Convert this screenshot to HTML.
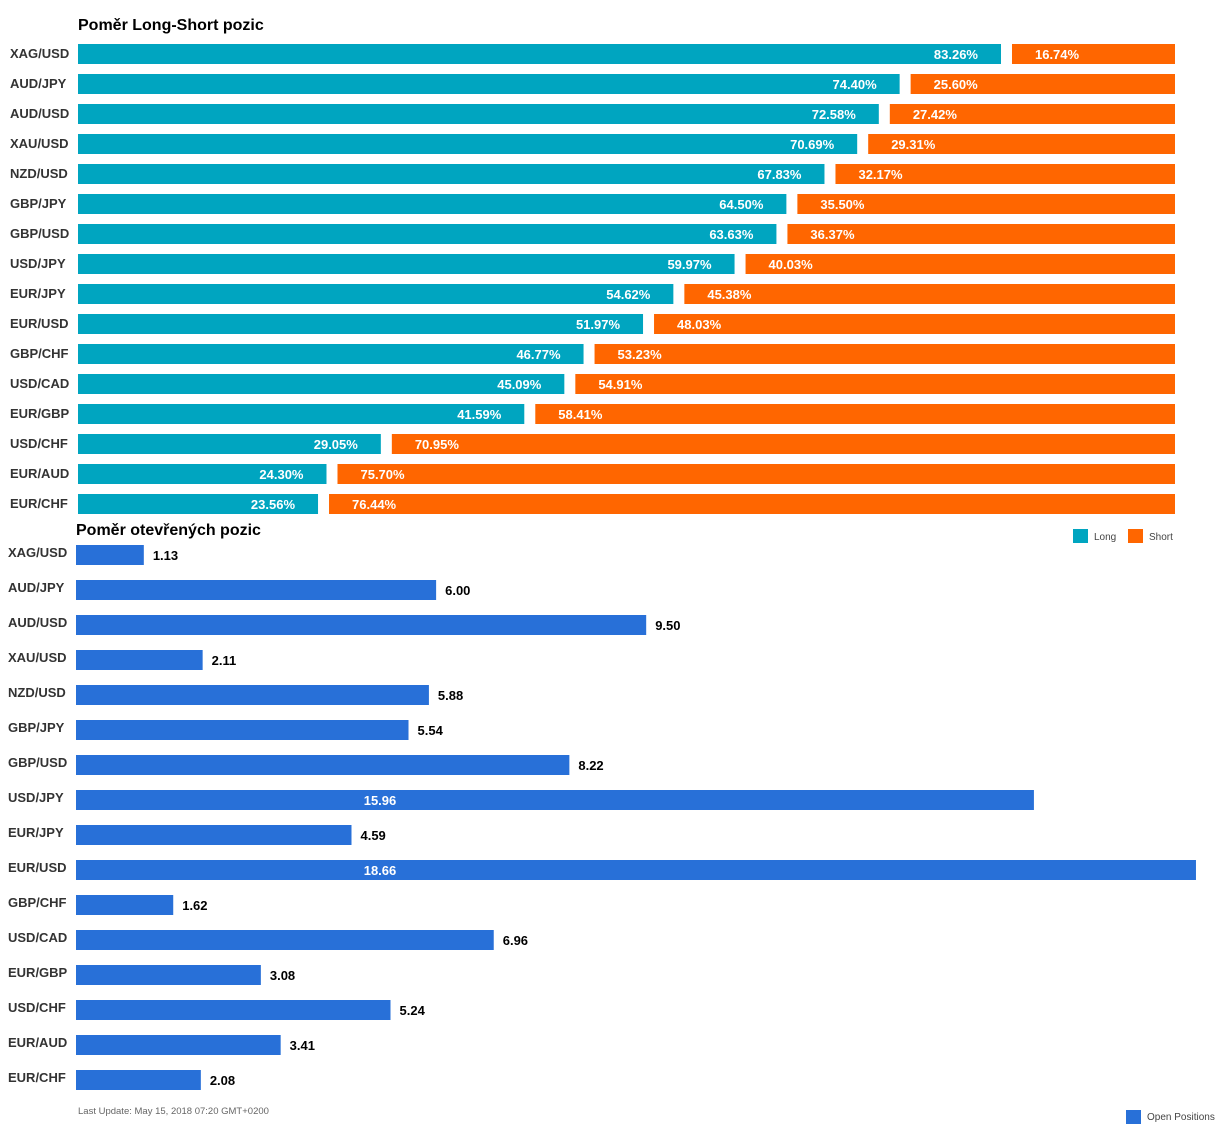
<!DOCTYPE html>
<html><head><meta charset="utf-8"><style>
html,body{margin:0;padding:0;background:#fff;}
svg{display:block;font-family:"Liberation Sans",Arial,sans-serif;}
.pair{font-size:13px;fill:#333;font-weight:bold;}
.val{font-family:"Liberation Sans Narrow","Liberation Sans",sans-serif;font-size:13px;font-weight:bold;}
.title{font-size:16px;font-weight:bold;fill:#000;}
</style></head><body>
<svg id="chart" width="1226" height="1129">
<text class="title" x="78" y="30">Poměr Long-Short pozic</text>
<text class="title" x="76" y="535">Poměr otevřených pozic</text>
<g><rect x="1073" y="529" width="15" height="14" fill="#00a5c0"/><text x="1094" y="540" font-size="10" fill="#444">Long</text></g>
<g><rect x="1128" y="529" width="15" height="14" fill="#ff6600"/><text x="1149" y="540" font-size="10" fill="#444">Short</text></g>
<g><rect x="1126" y="1110" width="15" height="14" fill="#2870d8"/><text x="1147" y="1120" font-size="10" fill="#444">Open Positions</text></g>
<text x="78" y="1114" font-size="9.5" fill="#666">Last Update: May 15, 2018 07:20 GMT+0200</text>
<g id="top"></g><g id="bottom"></g>
</svg>
<script>
const pairs=["XAG/USD","AUD/JPY","AUD/USD","XAU/USD","NZD/USD","GBP/JPY","GBP/USD","USD/JPY","EUR/JPY","EUR/USD","GBP/CHF","USD/CAD","EUR/GBP","USD/CHF","EUR/AUD","EUR/CHF"];
const longPct=[83.26,74.40,72.58,70.69,67.83,64.50,63.63,59.97,54.62,51.97,46.77,45.09,41.59,29.05,24.30,23.56];
const openPos=[1.13,6.00,9.50,2.11,5.88,5.54,8.22,15.96,4.59,18.66,1.62,6.96,3.08,5.24,3.41,2.08];
const NS="http://www.w3.org/2000/svg";
function xLong(p){return 48.5+11.44*p;}
function xOpen(v){return 76+60.02*v;}
function mk(tag,attrs,parent,text){const e=document.createElementNS(NS,tag);for(const k in attrs)e.setAttribute(k,attrs[k]);if(text!=null)e.textContent=text;parent.appendChild(e);return e;}
const gTop=document.getElementById('top'),gBot=document.getElementById('bottom');
pairs.forEach((p,i)=>{
  const y=44+i*30;
  const l=mk('text',{x:10,y:y+14,class:'pair'},gTop,p);
  
  
  const le=xLong(longPct[i]);
  const b=mk('rect',{x:78,y:y,width:le-78,height:20,fill:'#00a5c0'},gTop);
  
  
  const ss=le+11;
  const s=mk('rect',{x:ss,y:y,width:1175-ss,height:20,fill:'#ff6600'},gTop);
  
  
  const t1=mk('text',{x:le-23,y:y+15,class:'val',fill:'#fff','text-anchor':'end'},gTop,longPct[i].toFixed(2)+'%');
  
  
  const t2=mk('text',{x:ss+23,y:y+15,class:'val',fill:'#fff'},gTop,(100-longPct[i]).toFixed(2)+'%');
  
  
  const y2=545+i*35;
  const l2=mk('text',{x:8,y:y2+12,class:'pair'},gBot,p);
  
  
  const e=xOpen(openPos[i]);
  const r=mk('rect',{x:76,y:y2,width:e-76,height:20,fill:'#2870d8'},gBot);
  
  
  const inside=openPos[i]>12;
  const t=mk('text',inside?{x:380,y:y2+15,class:'val',fill:'#fff','text-anchor':'middle'}:{x:e+9,y:y2+15,class:'val',fill:'#000'},gBot,openPos[i].toFixed(2));
  
  
});
</script>
</body></html>
